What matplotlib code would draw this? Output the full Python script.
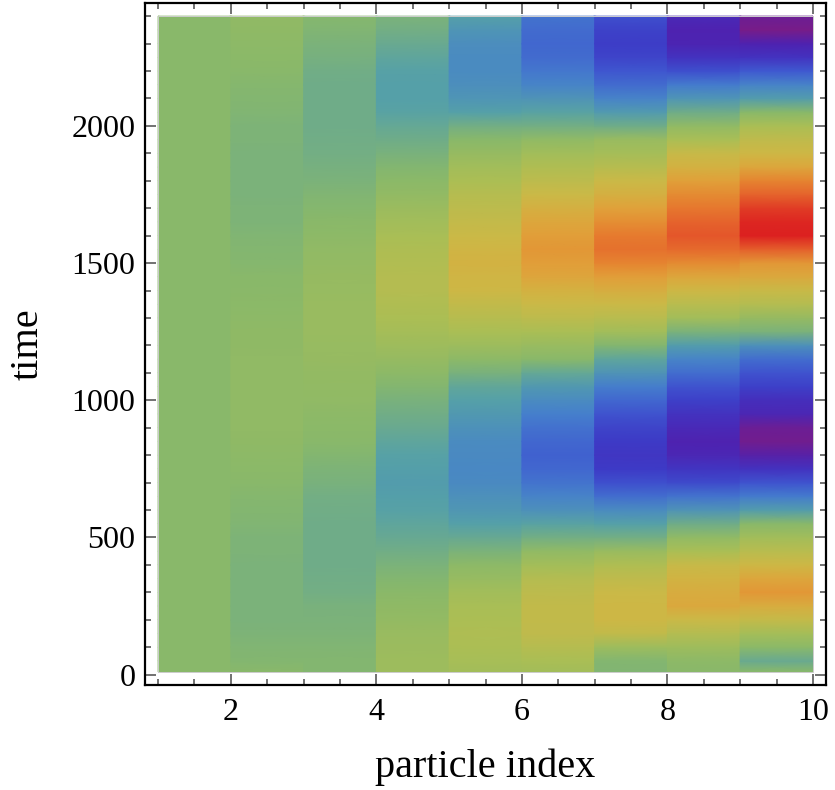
import numpy as np
import matplotlib
matplotlib.use("Agg")
import matplotlib.pyplot as plt
from matplotlib.colors import LinearSegmentedColormap
from matplotlib.ticker import MultipleLocator
from matplotlib.patches import Rectangle

# time samples (rows) and particle columns
times = [10, 50, 100, 150, 200, 250, 300, 350, 400, 450, 500, 550, 600, 650, 700, 750,
         800, 850, 900, 950, 1000, 1050, 1100, 1150, 1200, 1250, 1300, 1350, 1400, 1450,
         1500, 1550, 1600, 1650, 1700, 1750, 1800, 1850, 1900, 1950, 2000, 2050, 2100,
         2150, 2200, 2250, 2300, 2350, 2400]
particle_edges = [1, 2, 3, 4, 5, 6, 7, 8, 9, 10]

c1 = [0.0] * 49
c2 = [0.0, -0.02, -0.03, -0.04, -0.05, -0.05, -0.05, -0.05, -0.05, -0.04, -0.04, -0.03, -0.02,
      -0.01, 0.0, 0.02, 0.03, 0.04, 0.05, 0.05, 0.05, 0.05, 0.05, 0.05, 0.04, 0.04, 0.03, 0.02,
      0.01, 0.0, -0.01, -0.02, -0.03, -0.04, -0.04, -0.05, -0.05, -0.05, -0.05, -0.04, -0.04,
      -0.03, -0.02, -0.01, 0.0, 0.02, 0.03, 0.04, 0.05]
c3 = [-0.02, -0.02, -0.03, -0.04, -0.05, -0.06, -0.08, -0.09, -0.1, -0.1, -0.1, -0.1, -0.09,
      -0.08, -0.06, -0.04, -0.02, 0.0, 0.02, 0.03, 0.05, 0.06, 0.07, 0.08, 0.09, 0.1, 0.1, 0.1,
      0.09, 0.08, 0.07, 0.05, 0.03, 0.01, -0.01, -0.03, -0.05, -0.07, -0.08, -0.09, -0.1, -0.1,
      -0.1, -0.1, -0.09, -0.07, -0.05, -0.03, -0.01]
c4 = [0.12, 0.12, 0.11, 0.1, 0.07, 0.04, 0.01, -0.02, -0.05, -0.09, -0.13, -0.16, -0.19, -0.21,
      -0.22, -0.21, -0.19, -0.16, -0.12, -0.09, -0.06, -0.02, 0.03, 0.08, 0.13, 0.17, 0.21, 0.23,
      0.25, 0.25, 0.24, 0.22, 0.19, 0.15, 0.11, 0.06, 0.02, -0.02, -0.06, -0.1, -0.14, -0.18,
      -0.2, -0.2, -0.19, -0.16, -0.12, -0.08, -0.05]
c5 = [0.15, 0.18, 0.21, 0.22, 0.21, 0.19, 0.15, 0.09, 0.03, -0.05, -0.13, -0.2, -0.26, -0.3,
      -0.34, -0.35, -0.34, -0.33, -0.29, -0.25, -0.2, -0.15, -0.06, 0.03, 0.12, 0.2, 0.27, 0.33,
      0.4, 0.42, 0.44, 0.42, 0.38, 0.34, 0.3, 0.26, 0.21, 0.15, 0.08, 0.0, -0.08, -0.2, -0.27,
      -0.31, -0.33, -0.33, -0.32, -0.27, -0.2]
c6 = [0.15, 0.2, 0.26, 0.32, 0.33, 0.33, 0.3, 0.25, 0.16, 0.05, -0.08, -0.18, -0.3, -0.38, -0.45,
      -0.5, -0.52, -0.5, -0.46, -0.4, -0.33, -0.25, -0.14, 0.0, 0.1, 0.2, 0.3, 0.38, 0.45, 0.53,
      0.57, 0.6, 0.57, 0.52, 0.46, 0.38, 0.3, 0.23, 0.15, 0.05, -0.08, -0.18, -0.28, -0.37,
      -0.43, -0.48, -0.5, -0.48, -0.45]
c7 = [-0.03, -0.02, 0.12, 0.33, 0.4, 0.4, 0.38, 0.32, 0.23, 0.1, -0.08, -0.2, -0.33, -0.47, -0.6,
      -0.7, -0.72, -0.7, -0.65, -0.58, -0.5, -0.41, -0.28, -0.16, -0.02, 0.15, 0.28, 0.38, 0.47,
      0.57, 0.68, 0.75, 0.72, 0.64, 0.55, 0.46, 0.38, 0.27, 0.17, 0.1, -0.1, -0.24, -0.38, -0.48,
      -0.57, -0.65, -0.68, -0.66, -0.6]
c8 = [0.0, 0.03, 0.13, 0.25, 0.38, 0.5, 0.48, 0.43, 0.36, 0.2, 0.05, -0.1, -0.28, -0.45, -0.62,
      -0.73, -0.82, -0.85, -0.8, -0.75, -0.67, -0.58, -0.47, -0.37, -0.22, -0.05, 0.15, 0.28,
      0.4, 0.52, 0.65, 0.78, 0.85, 0.8, 0.73, 0.65, 0.56, 0.45, 0.36, 0.2, 0.05, -0.1, -0.27,
      -0.42, -0.6, -0.75, -0.83, -0.85, -0.8]
c9 = [0.0, -0.12, 0.02, 0.17, 0.35, 0.48, 0.6, 0.52, 0.4, 0.28, 0.15, 0.0, -0.22, -0.42, -0.58,
      -0.75, -0.88, -0.97, -0.95, -0.82, -0.77, -0.67, -0.58, -0.47, -0.3, -0.05, 0.08, 0.25,
      0.37, 0.5, 0.6, 0.82, 1.0, 0.98, 0.92, 0.8, 0.68, 0.52, 0.4, 0.32, 0.2, 0.0, -0.22, -0.38,
      -0.55, -0.75, -0.85, -1.0, -0.95]
columns = [c1, c2, c3, c4, c5, c6, c7, c8, c9]

x_ticks = [2, 4, 6, 8, 10]
y_ticks = [0, 500, 1000, 1500, 2000]

rainbow = LinearSegmentedColormap.from_list("mma_rainbow", [
    (0.000, "#781c88"),
    (0.075, "#4e22b0"),
    (0.150, "#3d3ac6"),
    (0.225, "#3f5ad0"),
    (0.300, "#4580cc"),
    (0.400, "#55a0a8"),
    (0.500, "#88b86a"),
    (0.600, "#aabe55"),
    (0.700, "#cdb845"),
    (0.775, "#e0a23a"),
    (0.850, "#e6812f"),
    (0.925, "#e4562a"),
    (1.000, "#dc2020"),
])

plt.rcParams['font.family'] = ['Liberation Serif', 'DejaVu Serif']

fig = plt.figure(figsize=(8.35, 7.9), dpi=100)
ax = fig.add_axes([145 / 835, 1 - 685 / 790, (826 - 145) / 835, (685 - 3) / 790])

t = np.array(times, dtype=float)
for k, col in enumerate(columns):
    x0, x1 = particle_edges[k], particle_edges[k + 1]
    X, Y = np.meshgrid([x0, x1], t)
    C = np.column_stack([col, col])
    ax.pcolormesh(X, Y, C, shading='gouraud', cmap=rainbow, vmin=-1, vmax=1,
                  antialiased=False, edgecolors='none')

ax.add_patch(Rectangle((particle_edges[0], times[0]), particle_edges[-1] - particle_edges[0],
                       times[-1] - times[0], fill=False, edgecolor="#cccccc", lw=0.7))

ax.set_xlim(0.82, 10.18)
ax.set_ylim(-38, 2448)

ax.set_xticks(x_ticks)
ax.set_yticks(y_ticks)
ax.xaxis.set_minor_locator(MultipleLocator(0.5))
ax.yaxis.set_minor_locator(MultipleLocator(100))
ax.tick_params(which='both', direction='in', top=True, right=True, color='#666666',
               width=1.3, labelsize=23, labelcolor='black')
ax.tick_params(axis='x', pad=9)
ax.tick_params(axis='y', pad=7)
ax.tick_params(which='major', length=8)
ax.tick_params(which='minor', length=4.5)

for s in ax.spines.values():
    s.set_linewidth(1.6)
    s.set_color('black')

ax.set_xlabel("particle index", fontsize=29)
ax.set_ylabel("time", fontsize=29)
ax.xaxis.set_label_coords(0.5, -0.093)
ax.yaxis.set_label_coords(-0.145, 0.5)

fig.savefig("out.png", dpi=100)
